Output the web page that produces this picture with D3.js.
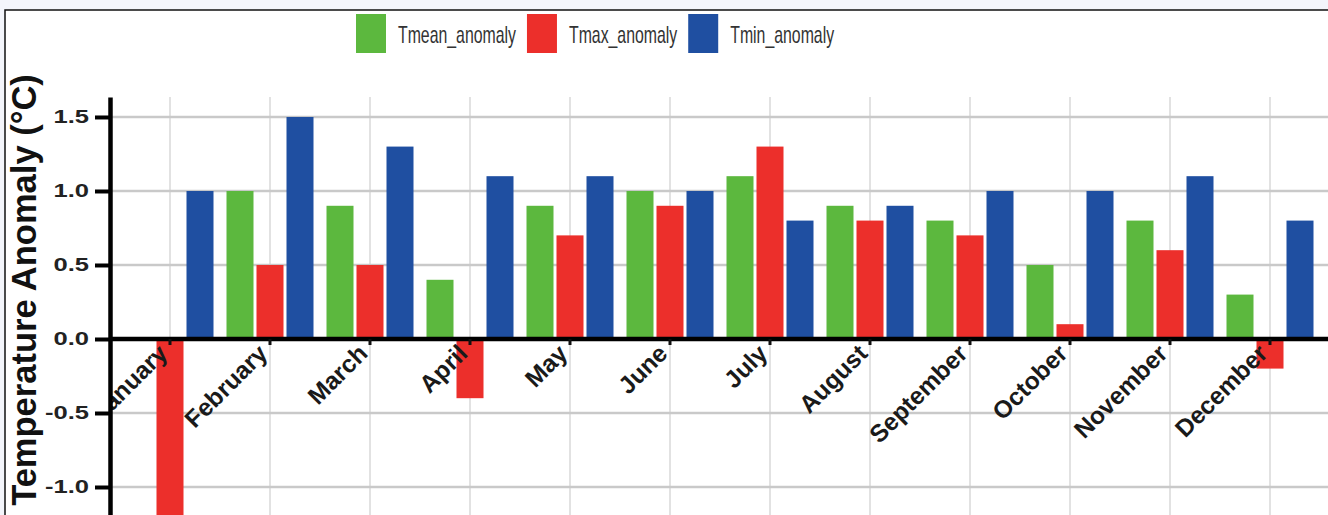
<!DOCTYPE html>
<html>
<head>
<meta charset="utf-8">
<script src="https://cdn.jsdelivr.net/npm/d3@7"></script>
<style>
  html, body { margin: 0; padding: 0; background: #f3f5fb; overflow: hidden; }
  svg { display: block; font-family: "Liberation Sans", Arial, sans-serif; }
</style>
</head>
<body>
<div id="chart"></div>
<script>
// monthly anomalies
const months = ["January", "February", "March", "April", "May", "June",
  "July", "August", "September", "October", "November", "December"];
const seriesNames = ["Tmean_anomaly", "Tmax_anomaly", "Tmin_anomaly"];
const tmeanValues = [0.0, 1.0, 0.9, 0.4, 0.9, 1.0, 1.1, 0.9, 0.8, 0.5, 0.8, 0.3];
const tmaxValues = [-1.3, 0.5, 0.5, -0.4, 0.7, 0.9, 1.3, 0.8, 0.7, 0.1, 0.6, -0.2];
const tminValues = [1.0, 1.5, 1.3, 1.1, 1.1, 1.0, 0.8, 0.9, 1.0, 1.0, 1.1, 0.8];
const seriesColors = ["#5cb83e", "#ec2f2b", "#1f4fa1"];
const yTickValues = [-1.0, -0.5, 0.0, 0.5, 1.0, 1.5];

var width = 1328, height = 515;

// long format rows for the grouped bars
var rows = [];
months.forEach(function (m, i) {
  rows.push({ month: m, series: seriesNames[0], value: tmeanValues[i] });
  rows.push({ month: m, series: seriesNames[1], value: tmaxValues[i] });
  rows.push({ month: m, series: seriesNames[2], value: tminValues[i] });
});

var svg = d3.select("#chart").append("svg")
  .attr("width", width)
  .attr("height", height);

// white card with a thin black frame
svg.append("rect")
  .attr("x", 5).attr("y", 10)
  .attr("width", width + 20).attr("height", height + 20)
  .attr("fill", "#fff")
  .attr("stroke", "#111")
  .attr("stroke-width", 1.5);

var panel = { left: 110, top: 97, right: width + 10, bottom: height + 50 };

var x0 = d3.scaleBand().domain(months).range([120, 1320]);
var x1 = d3.scaleBand().domain(seriesNames).range([5, 95])
  .paddingInner(0.1).paddingOuter(0.05);
var y = d3.scaleLinear().domain([-1.5, 1.635]).range([561, 97]);
var color = d3.scaleOrdinal().domain(seriesNames).range(seriesColors);

svg.append("clipPath").attr("id", "panelClip")
  .append("rect")
  .attr("x", panel.left + 2).attr("y", panel.top)
  .attr("width", panel.right - panel.left).attr("height", panel.bottom - panel.top);

var plot = svg.append("g").attr("clip-path", "url(#panelClip)");

// grid
plot.selectAll(".vgrid")
  .data(months)
  .enter().append("line")
  .attr("class", "vgrid")
  .attr("x1", d => x0(d) + x0.bandwidth() / 2)
  .attr("x2", d => x0(d) + x0.bandwidth() / 2)
  .attr("y1", panel.top).attr("y2", panel.bottom)
  .attr("stroke", "#e2e2e2")
  .attr("stroke-width", 2);

plot.selectAll(".hgrid")
  .data(yTickValues.filter(d => d !== 0))
  .enter().append("line")
  .attr("class", "hgrid")
  .attr("x1", panel.left).attr("x2", panel.right)
  .attr("y1", d => y(d)).attr("y2", d => y(d))
  .attr("stroke", "#c9c9c9")
  .attr("stroke-width", 2.5);

// bars
plot.selectAll(".bar")
  .data(rows)
  .enter().append("rect")
  .attr("class", "bar")
  .attr("x", d => x0(d.month) + x1(d.series))
  .attr("width", x1.bandwidth())
  .attr("y", d => y(Math.max(0, d.value)))
  .attr("height", d => Math.abs(y(d.value) - y(0)))
  .attr("fill", d => color(d.series));

// zero line acts as the x axis
plot.append("line")
  .attr("x1", panel.left).attr("x2", panel.right)
  .attr("y1", y(0)).attr("y2", y(0))
  .attr("stroke", "#000")
  .attr("stroke-width", 4.5);

plot.selectAll(".xtick")
  .data(months)
  .enter().append("line")
  .attr("class", "xtick")
  .attr("x1", d => x0(d) + x0.bandwidth() / 2)
  .attr("x2", d => x0(d) + x0.bandwidth() / 2)
  .attr("y1", y(0)).attr("y2", y(0) + 6)
  .attr("stroke", "#111")
  .attr("stroke-width", 3);

// month labels sit on the zero line, tilted
plot.selectAll(".xlabel")
  .data(months)
  .enter().append("text")
  .attr("class", "xlabel")
  .attr("transform", d => `translate(${x0(d) + x0.bandwidth() / 2 - 1},${y(0) + 16}) rotate(-45)`)
  .attr("text-anchor", "end")
  .attr("font-size", 24.5)
  .attr("font-weight", "bold")
  .attr("fill", "#1a1a1a")
  .text(d => d);

// y axis
var yAxis = svg.append("g")
  .attr("transform", `translate(${panel.left},0)`)
  .call(d3.axisLeft(y)
    .tickValues(yTickValues)
    .tickFormat(d => d.toFixed(1))
    .tickSize(15)
    .tickSizeOuter(0)
    .tickPadding(6));

yAxis.select(".domain").attr("stroke", "#000").attr("stroke-width", 4.5);
yAxis.selectAll(".tick line").attr("stroke", "#000").attr("stroke-width", 4);
yAxis.selectAll(".tick text")
  .attr("x", -21 / 1.42)
  .attr("transform", "scale(1.42,1)")
  .attr("font-size", 18)
  .attr("font-weight", "bold")
  .attr("fill", "#222")
  .attr("font-family", "'Liberation Sans', Arial, sans-serif");

svg.append("text")
  .attr("transform", "translate(36,290) rotate(-90)")
  .attr("text-anchor", "middle")
  .attr("font-size", 34.5)
  .attr("font-weight", "bold")
  .attr("fill", "#111")
  .text("Temperature Anomaly (°C)");

// legend, text is drawn narrow like the original
var legend = svg.append("g").attr("class", "legend");
var lx = 356;
seriesNames.forEach(function (name, i) {
  legend.append("rect")
    .attr("x", lx).attr("y", 14)
    .attr("width", 30).attr("height", 39)
    .attr("fill", seriesColors[i]);
  var t = legend.append("text")
    .attr("transform", `translate(${lx + 42},43) scale(0.66,1)`)
    .attr("font-size", 24)
    .attr("fill", "#333")
    .text(name);
  lx += 42 + t.node().getComputedTextLength() * 0.66 + 11;
});
</script>
</body>
</html>
